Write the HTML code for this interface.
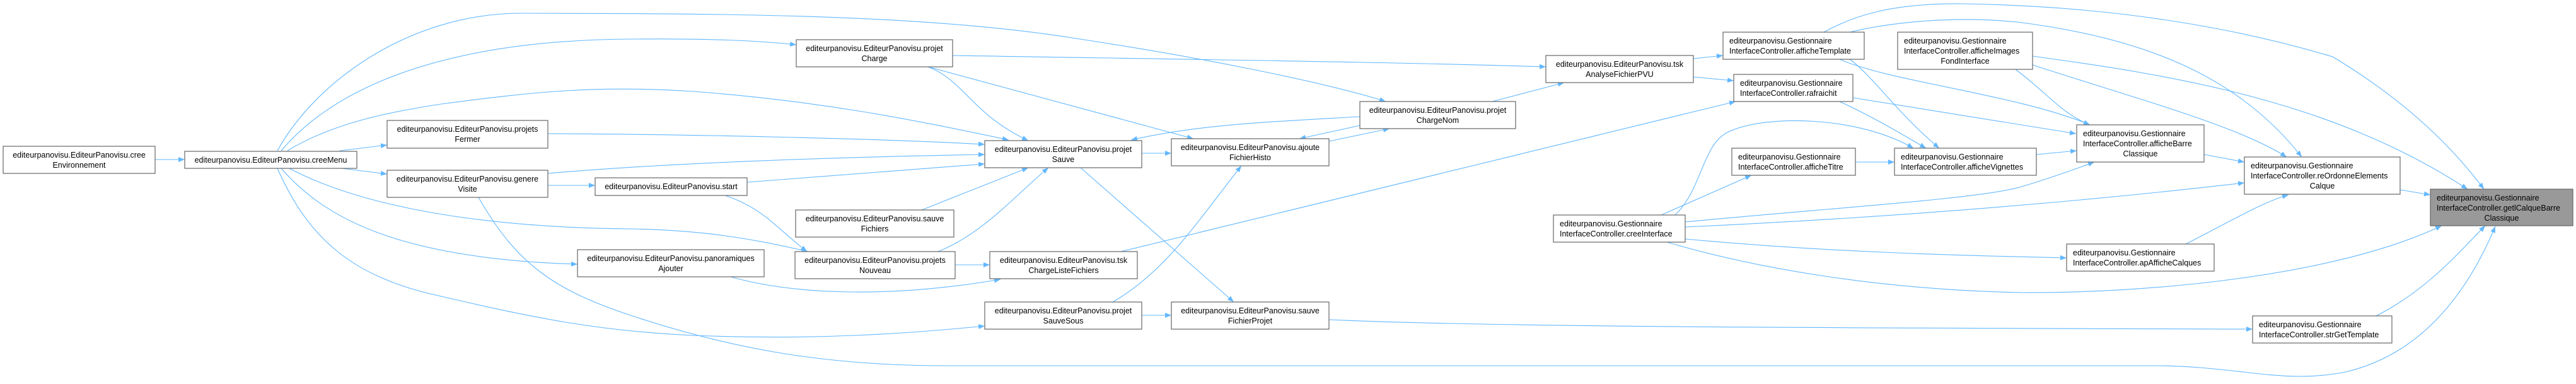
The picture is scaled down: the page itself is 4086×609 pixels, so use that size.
<!DOCTYPE html>
<html><head><meta charset="utf-8"><style>
html,body{margin:0;padding:0;background:#fff;}
svg{display:block;}
text{font-family:"Liberation Sans",Arial,sans-serif;font-size:12.5px;fill:#000;}
.e{fill:none;stroke:#63b8ff;stroke-width:1.1;marker-end:url(#ah);}
.n{fill:#fff;stroke:#666;stroke-width:1.2;}
</style></head><body>
<svg width="4086" height="609" viewBox="0 0 4086 609" xmlns="http://www.w3.org/2000/svg">
<defs><marker id="ah" markerUnits="userSpaceOnUse" markerWidth="11" markerHeight="8" refX="10" refY="4" orient="auto"><path d="M0,0 L10,4 L0,8 z" fill="#63b8ff"/></marker></defs>
<g>
<path class="e" d="M246,253 L293,253"/>
<path class="e" d="M539,239 L614,230"/>
<path class="e" d="M542,267 L614,276"/>
<path class="e" d="M440,239 C500,130 650,20 830,21 C1100,22 1450,20 1700,60 C1900,90 2100,130 2198,161"/>
<path class="e" d="M446,239 C530,140 700,64 1000,62 C1120,61 1200,64 1263,71"/>
<path class="e" d="M456,239 C520,200 600,180 700,165 C850,145 950,135 1100,145 C1300,160 1450,190 1600,222"/>
<path class="e" d="M459,267 C540,310 700,360 1000,363 C1120,365 1200,380 1282,399"/>
<path class="e" d="M446,267 C510,340 620,410 916,419"/>
<path class="e" d="M440,267 C490,380 560,440 700,470 C850,505 950,525 1100,532 C1300,540 1450,528 1562,517"/>
<path class="e" d="M759,313 C820,420 880,460 1000,500 C1150,550 1300,580 1500,580 L3415,580 C3550,580 3620,610 3720,590 C3850,560 3920,450 3958,359"/>
<path class="e" d="M869,212 C1100,213 1400,220 1562,229"/>
<path class="e" d="M869,275 C1100,255 1400,248 1562,245"/>
<path class="e" d="M869,294 L944,294"/>
<path class="e" d="M1185,289 L1562,260"/>
<path class="e" d="M1150,310 C1210,330 1230,360 1280,399"/>
<path class="e" d="M1462,333 L1631,266"/>
<path class="e" d="M1488,399 C1560,370 1610,310 1663,266"/>
<path class="e" d="M1515,420 L1570,420"/>
<path class="e" d="M1159,439 C1250,465 1400,475 1587,443"/>
<path class="e" d="M1472,106 C1530,128 1540,180 1631,223"/>
<path class="e" d="M1472,106 L1893,220"/>
<path class="e" d="M1511,88 C1800,93 2200,98 2452,106"/>
<path class="e" d="M1811,243 L1858,243"/>
<path class="e" d="M1714,266 L1957,479"/>
<path class="e" d="M1811,500 L1858,500"/>
<path class="e" d="M1765,479 C1850,430 1900,350 1969,263"/>
<path class="e" d="M2157,185 C2000,194 1900,198 1794,222"/>
<path class="e" d="M2157,199 L2061,220"/>
<path class="e" d="M2108,224 L2204,204"/>
<path class="e" d="M2367,161 L2481,131"/>
<path class="e" d="M1778,399 L2753,161"/>
<path class="e" d="M2686,93 L2733,88"/>
<path class="e" d="M2686,122 L2750,128"/>
<path class="e" d="M2893,51 C2940,25 3000,5 3111,6 C3400,10 3600,60 3700,90 C3800,150 3880,220 3940,300"/>
<path class="e" d="M2934,51 C3000,35 3100,25 3200,35 C3400,60 3550,120 3651,249"/>
<path class="e" d="M2918,94 C3000,130 3200,150 3315,198"/>
<path class="e" d="M2934,94 C2970,120 3010,180 3076,235"/>
<path class="e" d="M2939,155 L3293,212"/>
<path class="e" d="M2918,161 C2980,190 3020,215 3055,235"/>
<path class="e" d="M2657,341 C2700,300 2700,230 2740,210 C2800,180 2950,185 3035,235"/>
<path class="e" d="M2635,341 L2778,278"/>
<path class="e" d="M2943,257 L3005,257"/>
<path class="e" d="M2673,352 C2900,330 3150,315 3210,295 C3260,280 3300,265 3322,257"/>
<path class="e" d="M2673,360 C3000,345 3300,320 3560,290"/>
<path class="e" d="M2673,379 C2900,400 3100,405 3278,409"/>
<path class="e" d="M2644,384 C2800,430 3000,460 3208,464 C3400,465 3700,440 3873,358"/>
<path class="e" d="M2108,507 C2400,520 3000,520 3573,522"/>
<path class="e" d="M3769,501 C3850,460 3900,400 3942,358"/>
<path class="e" d="M3467,387 C3540,350 3590,320 3630,309"/>
<path class="e" d="M3224,103 C3400,160 3550,200 3627,249"/>
<path class="e" d="M3224,89 C3450,120 3700,160 3914,300"/>
<path class="e" d="M3197,110 C3250,150 3270,180 3315,198"/>
<path class="e" d="M3230,245 L3294,239"/>
<path class="e" d="M3496,245 L3560,257"/>
<path class="e" d="M3807,301 L3855,309"/>
</g>
<g text-anchor="middle">
<rect class="n" x="5" y="232" width="241" height="43"/><text x="125.5" y="250">editeurpanovisu.EditeurPanovisu.cree</text><text x="125.5" y="266">Environnement</text>
<rect class="n" x="293" y="240" width="273" height="27"/><text x="429.5" y="258">editeurpanovisu.EditeurPanovisu.creeMenu</text>
<rect class="n" x="614" y="191" width="255" height="44"/><text x="741.5" y="209">editeurpanovisu.EditeurPanovisu.projets</text><text x="741.5" y="225">Fermer</text>
<rect class="n" x="614" y="270" width="255" height="43"/><text x="741.5" y="288">editeurpanovisu.EditeurPanovisu.genere</text><text x="741.5" y="304">Visite</text>
<rect class="n" x="944" y="282" width="241" height="28"/><text x="1064.5" y="300">editeurpanovisu.EditeurPanovisu.start</text>
<rect class="n" x="916" y="396" width="296" height="43"/><text x="1064" y="414">editeurpanovisu.EditeurPanovisu.panoramiques</text><text x="1064" y="430">Ajouter</text>
<rect class="n" x="1263" y="63" width="248" height="43"/><text x="1387" y="81">editeurpanovisu.EditeurPanovisu.projet</text><text x="1387" y="97">Charge</text>
<rect class="n" x="1562" y="223" width="249" height="43"/><text x="1686.5" y="241">editeurpanovisu.EditeurPanovisu.projet</text><text x="1686.5" y="257">Sauve</text>
<rect class="n" x="1858" y="220" width="250" height="43"/><text x="1983" y="238">editeurpanovisu.EditeurPanovisu.ajoute</text><text x="1983" y="254">FichierHisto</text>
<rect class="n" x="1262" y="333" width="251" height="43"/><text x="1387.5" y="351">editeurpanovisu.EditeurPanovisu.sauve</text><text x="1387.5" y="367">Fichiers</text>
<rect class="n" x="1261" y="399" width="254" height="43"/><text x="1388" y="417">editeurpanovisu.EditeurPanovisu.projets</text><text x="1388" y="433">Nouveau</text>
<rect class="n" x="1570" y="399" width="234" height="43"/><text x="1687" y="417">editeurpanovisu.EditeurPanovisu.tsk</text><text x="1687" y="433">ChargeListeFichiers</text>
<rect class="n" x="1562" y="479" width="249" height="43"/><text x="1686.5" y="497">editeurpanovisu.EditeurPanovisu.projet</text><text x="1686.5" y="513">SauveSous</text>
<rect class="n" x="1858" y="479" width="250" height="43"/><text x="1983" y="497">editeurpanovisu.EditeurPanovisu.sauve</text><text x="1983" y="513">FichierProjet</text>
<rect class="n" x="2157" y="161" width="247" height="43"/><text x="2280.5" y="179">editeurpanovisu.EditeurPanovisu.projet</text><text x="2280.5" y="195">ChargeNom</text>
<rect class="n" x="2452" y="88" width="234" height="43"/><text x="2569" y="106">editeurpanovisu.EditeurPanovisu.tsk</text><text x="2569" y="122">AnalyseFichierPVU</text>
</g>
<g text-anchor="start">
<rect class="n" x="2733" y="51" width="224" height="43"/><text x="2743" y="69">editeurpanovisu.Gestionnaire</text><text x="2743" y="85">InterfaceController.afficheTemplate</text>
<rect class="n" x="2750" y="118" width="189" height="43"/><text x="2760" y="136">editeurpanovisu.Gestionnaire</text><text x="2760" y="152">InterfaceController.rafraichit</text>
<rect class="n" x="2747" y="235" width="196" height="43"/><text x="2757" y="253">editeurpanovisu.Gestionnaire</text><text x="2757" y="269">InterfaceController.afficheTitre</text>
<rect class="n" x="2464" y="341" width="209" height="43"/><text x="2474" y="359">editeurpanovisu.Gestionnaire</text><text x="2474" y="375">InterfaceController.creeInterface</text>
<rect class="n" x="3010" y="51" width="214" height="59"/><text x="3020" y="69">editeurpanovisu.Gestionnaire</text><text x="3020" y="85">InterfaceController.afficheImages</text><text x="3117" y="101" text-anchor="middle">FondInterface</text>
<rect class="n" x="3294" y="198" width="202" height="59"/><text x="3304" y="216">editeurpanovisu.Gestionnaire</text><text x="3304" y="232">InterfaceController.afficheBarre</text><text x="3395" y="248" text-anchor="middle">Classique</text>
<rect class="n" x="3005" y="235" width="225" height="43"/><text x="3015" y="253">editeurpanovisu.Gestionnaire</text><text x="3015" y="269">InterfaceController.afficheVignettes</text>
<rect class="n" x="3560" y="249" width="247" height="59"/><text x="3570" y="267">editeurpanovisu.Gestionnaire</text><text x="3570" y="283">InterfaceController.reOrdonneElements</text><text x="3683.5" y="299" text-anchor="middle">Calque</text>
<rect x="3855" y="300" width="226" height="58" fill="#999" stroke="#666" stroke-width="1.2"/><text x="3865" y="318">editeurpanovisu.Gestionnaire</text><text x="3865" y="334">InterfaceController.getlCalqueBarre</text><text x="3968" y="350" text-anchor="middle">Classique</text>
<rect class="n" x="3278" y="387" width="234" height="43"/><text x="3288" y="405">editeurpanovisu.Gestionnaire</text><text x="3288" y="421">InterfaceController.apAfficheCalques</text>
<rect class="n" x="3573" y="501" width="221" height="43"/><text x="3583" y="519">editeurpanovisu.Gestionnaire</text><text x="3583" y="535">InterfaceController.strGetTemplate</text>
</g>
</svg>
</body></html>
